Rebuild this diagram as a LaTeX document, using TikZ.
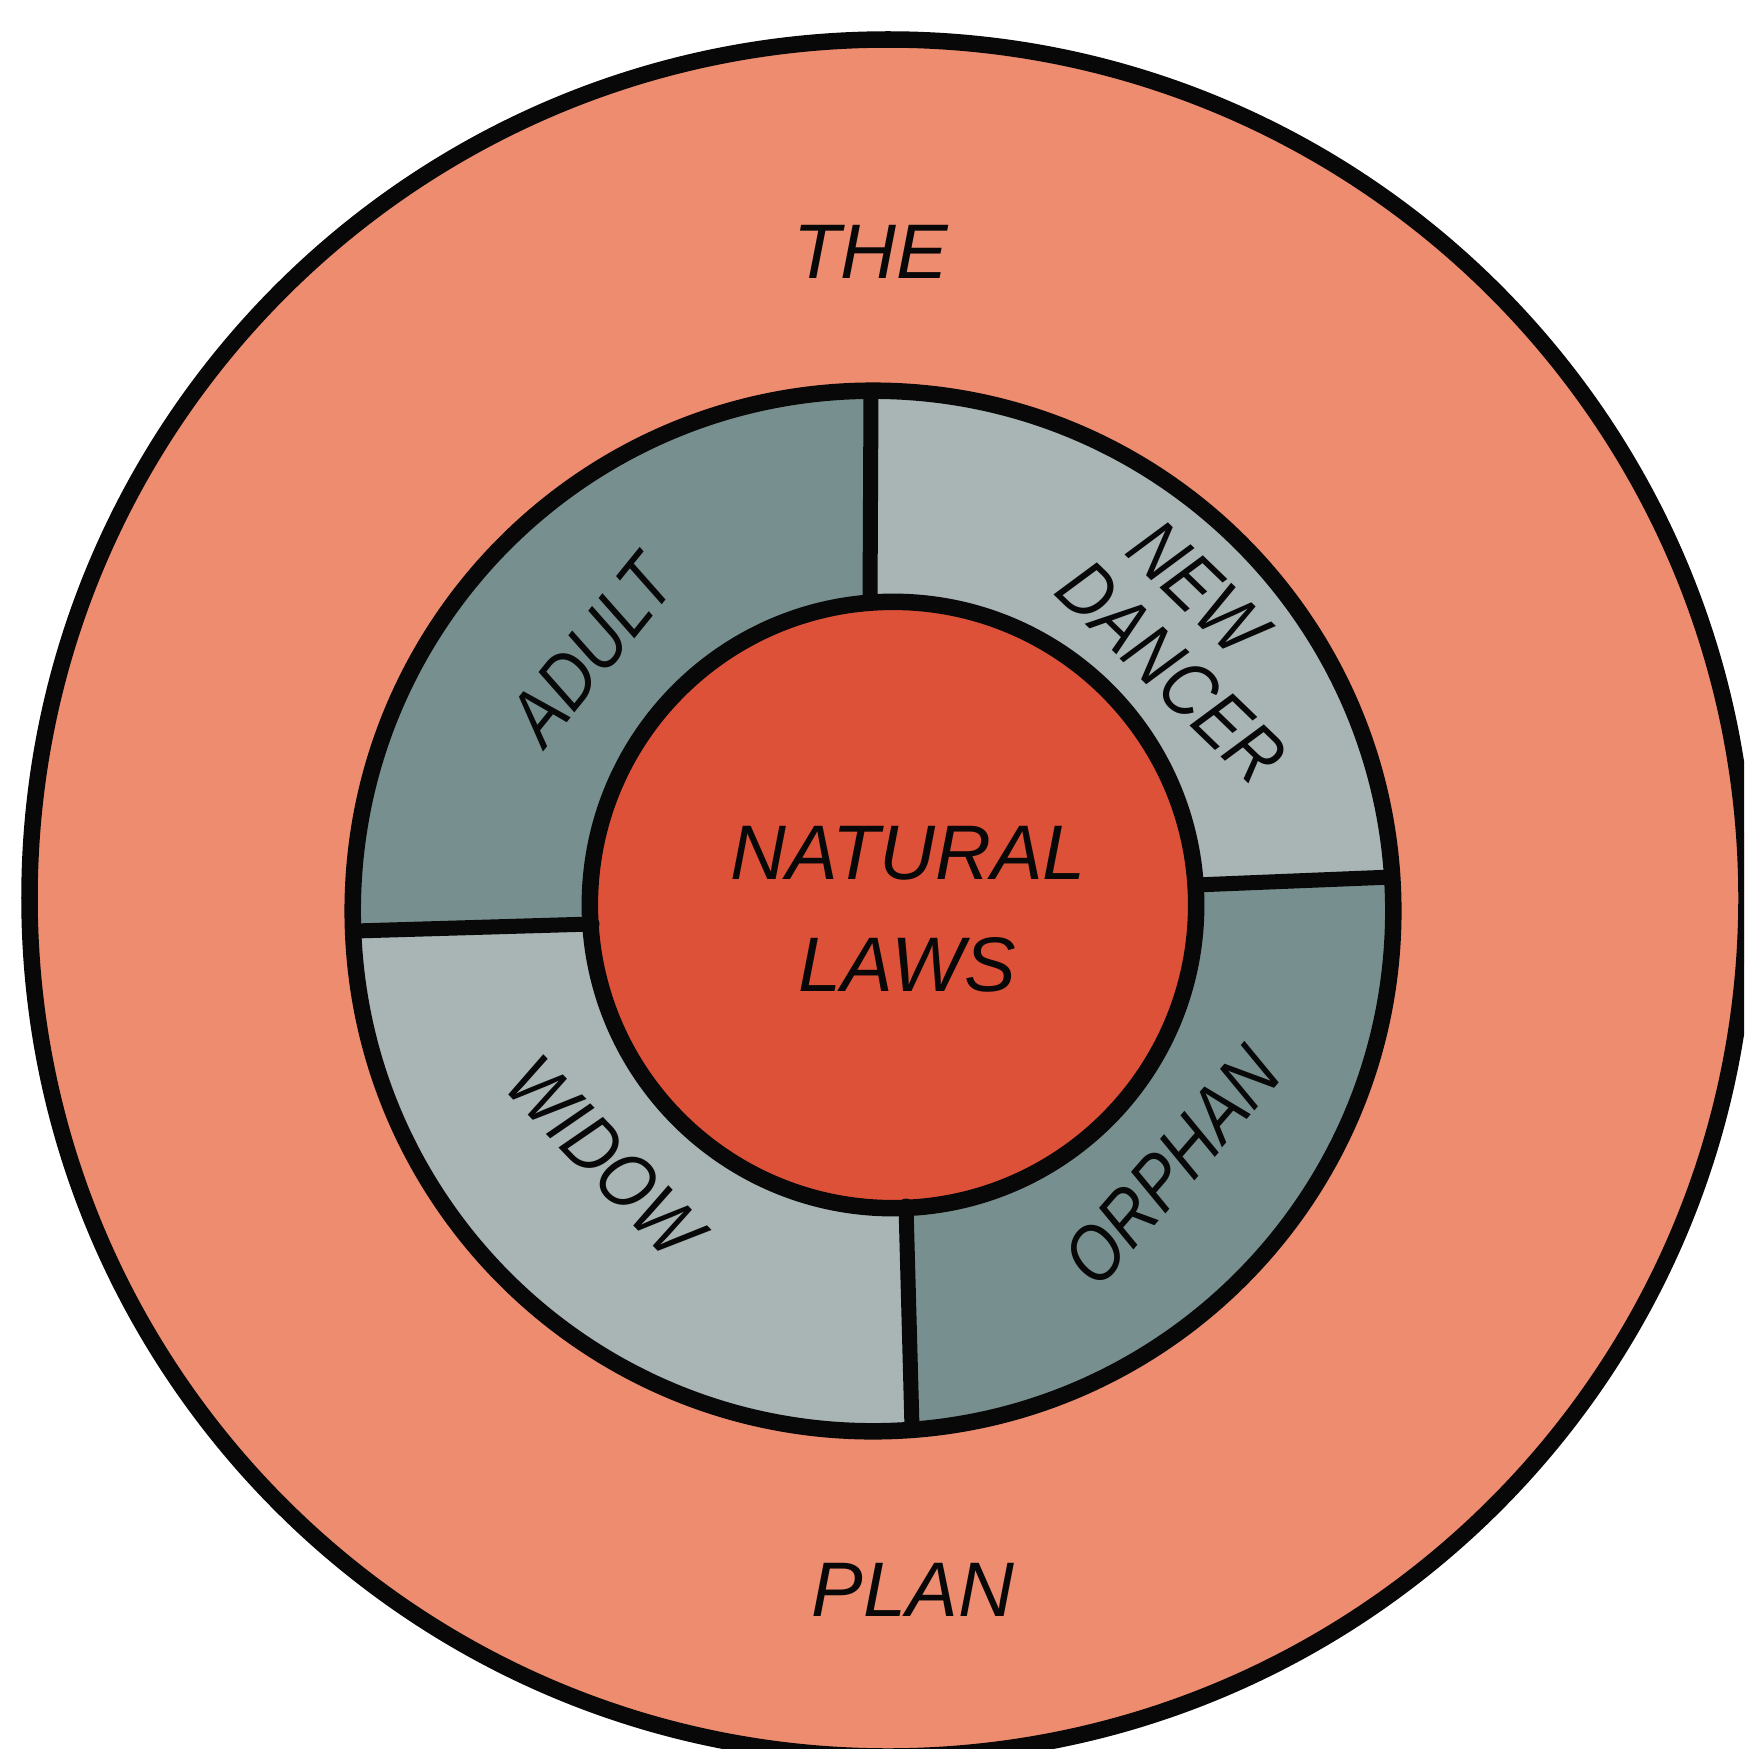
\documentclass[tikz,border=0pt]{standalone}
\usepackage{fontspec}
\setmainfont{Liberation Sans}
\newfontfamily\handfont[FakeStretch=0.86]{Liberation Sans}
\definecolor{salmon}{RGB}{238,140,112}
\definecolor{core}{RGB}{222,81,57}
\definecolor{darkseg}{RGB}{119,143,142}
\definecolor{lightseg}{RGB}{168,181,180}
\definecolor{ink}{RGB}{8,8,8}
\begin{document}
\begin{tikzpicture}[x=0.01cm,y=-0.01cm,
  ring/.style={draw=ink, line width=0.165cm},
  divider/.style={draw=ink, line width=0.15cm, line cap=round},
  lbl/.style={inner sep=0pt, text=ink, font=\fontsize{22}{26}\selectfont\itshape},
  seglbl/.style={inner sep=0pt, text=ink, font=\handfont\fontsize{22}{26}\selectfont\itshape}]
\useasboundingbox (0,0) rectangle (1744,1749);
\clip (0,0) rectangle (1744,1749);
\fill[white] (0,0) rectangle (1744,1749);
\coordinate (oc) at (888,898);
\coordinate (mc) at (873,911);
\coordinate (ic) at (893,905);
% divider end points
\coordinate (t1) at (871,392);  \coordinate (t2) at (870,602);
\coordinate (r1) at (1195,885); \coordinate (r2) at (1392,877);
\coordinate (b1) at (906,1206); \coordinate (b2) at (912,1428);
\coordinate (l1) at (355,931);  \coordinate (l2) at (592,924);
% outer disc
\fill[salmon] (oc) circle[radius=8.58cm];
% ring segments
\begin{scope}
  \clip (mc) circle[radius=5.2cm];
  \fill[lightseg] (mc) circle[radius=5.2cm];
  \fill[darkseg] (250,250) -- (871,250) -- (t2) -- (l2) -- (l1) -- (250,932) -- cycle;
  \fill[darkseg] (906,880) -- (r1) -- (r2) -- (1500,877) -- (1500,1500) -- (912,1500) -- (b2) -- (b1) -- cycle;
\end{scope}
\fill[core] (ic) circle[radius=3.03cm];
% dividers
\draw[divider] (t1) -- (t2);
\draw[divider] (r1) -- (r2);
\draw[divider] (b1) -- (b2);
\draw[divider] (l1) -- (l2);
% outlines
\draw[ring] (oc) circle[radius=8.58cm];
\draw[ring] (mc) circle[radius=5.2cm];
\draw[ring] (ic) circle[radius=3.03cm];
% labels
\node[lbl] (the) at (871,252) {THE};
\node[lbl] (plan) at (913,1590) {PLAN};
\node[lbl] (nat) at (908,853) {NATURAL};
\node[lbl] (laws) at (907,965) {LAWS};
\node[seglbl, rotate=51] (adult) at (592,650) {ADULT};
\node[seglbl, rotate=-44] (new) at (1198,588) {NEW};
\node[seglbl, rotate=-44] (dancer) at (1172,672) {DANCER};
\node[seglbl, rotate=-46] (widow) at (605,1157) {WIDOW};
\node[seglbl, rotate=49] (orphan) at (1172,1166) {ORPHAN};
\end{tikzpicture}
\end{document}
